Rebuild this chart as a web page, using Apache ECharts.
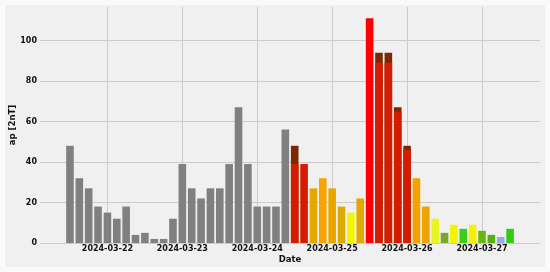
<!DOCTYPE html>
<html>
<head>
<meta charset="utf-8">
<script src="https://cdn.jsdelivr.net/npm/echarts@6/dist/echarts.min.js"></script>
<style>
  html, body { margin: 0; padding: 0; background: #fafafa; }
  #chart { position: absolute; left: 5px; top: 5px; width: 540px; height: 262px; background: #f0f0f0; }
</style>
</head>
<body>
<div id="chart"></div>
<script>
// 3-hourly ap index, bars centred on the start of each interval (UTC)
const times = [
  '2024-03-21 12:00', '2024-03-21 15:00', '2024-03-21 18:00', '2024-03-21 21:00',
  '2024-03-22 00:00', '2024-03-22 03:00', '2024-03-22 06:00', '2024-03-22 09:00',
  '2024-03-22 12:00', '2024-03-22 15:00', '2024-03-22 18:00', '2024-03-22 21:00',
  '2024-03-23 00:00', '2024-03-23 03:00', '2024-03-23 06:00', '2024-03-23 09:00',
  '2024-03-23 12:00', '2024-03-23 15:00', '2024-03-23 18:00', '2024-03-23 21:00',
  '2024-03-24 00:00', '2024-03-24 03:00', '2024-03-24 06:00', '2024-03-24 09:00',
  '2024-03-24 12:00', '2024-03-24 15:00', '2024-03-24 18:00', '2024-03-24 21:00',
  '2024-03-25 00:00', '2024-03-25 03:00', '2024-03-25 06:00', '2024-03-25 09:00',
  '2024-03-25 12:00', '2024-03-25 15:00', '2024-03-25 18:00', '2024-03-25 21:00',
  '2024-03-26 00:00', '2024-03-26 03:00', '2024-03-26 06:00', '2024-03-26 09:00',
  '2024-03-26 12:00', '2024-03-26 15:00', '2024-03-26 18:00', '2024-03-26 21:00',
  '2024-03-27 00:00', '2024-03-27 03:00', '2024-03-27 06:00', '2024-03-27 09:00'
];

const ap = [
  48, 32, 27, 18,
  15, 12, 18, 4, 5, 2, 2, 12,
  39, 27, 22, 27, 27, 39, 67, 39,
  18, 18, 18, 56, 48, 39, 27, 32,
  27, 18, 15, 22, 111, 94, 94, 67,
  48, 32, 18, 12, 5, 9, 7, 9,
  6, 4, 3, 7
];

// value where the dark cap on top of a bar begins (null = no cap)
const capFrom = [
  null, null, null, null,
  null, null, null, null, null, null, null, null,
  null, null, null, null, null, null, null, null,
  null, null, null, null, 39, null, null, null,
  null, null, null, null, null, 89, 89, 65,
  46, null, null, null, null, null, null, null,
  null, null, null, null
];

const G = '#808080';
const R = '#d41c00';
const barColors = [
  G, G, G, G,
  G, G, G, G, G, G, G, G,
  G, G, G, G, G, G, G, G,
  G, G, G, G, R, R, '#e8a600', '#f7a400',
  '#e8a600', '#dcaa00', '#f5f500', '#e2aa00', '#ff0000', R, R, R,
  R, '#f5a200', '#eba400', '#eaf520', '#78a82a', '#f0f500', '#3ccc1a', '#f8f000',
  '#66b810', '#55b010', '#99aaee', '#33cc11'
];
const capColor = '#7d2800';

const yTicks = [0, 20, 40, 60, 80, 100];

const toMs = s => Date.parse(s.replace(' ', 'T') + ':00Z');
const DAY = 86400000;

const font = { fontFamily: 'DejaVu Sans', fontWeight: 'bold', fontSize: 8, color: '#111' };

let myChart = echarts.init(document.getElementById('chart'));

let option = {
  useUTC: true,
  animation: false,
  backgroundColor: '#f0f0f0',
  grid: { left: 35, right: 5, top: 2, bottom: 24, outerBoundsMode: 'none' },
  xAxis: {
    type: 'time',
    min: toMs('2024-03-21 03:37'),
    max: toMs('2024-03-27 17:22'),
    minInterval: DAY,
    maxInterval: DAY,
    name: 'Date',
    nameLocation: 'middle',
    nameGap: 12,
    nameMoveOverlap: false,
    nameTextStyle: Object.assign({}, font, { fontSize: 8.5, verticalAlign: 'top' }),
    axisLine: { show: false },
    axisTick: { show: false },
    axisLabel: Object.assign({}, font, {
      margin: 2,
      showMinLabel: false,
      showMaxLabel: false,
      formatter: v => (v % DAY === 0 ? new Date(v).toISOString().slice(0, 10) : '')
    }),
    splitLine: { show: true, showMinLine: false, showMaxLine: false, lineStyle: { color: '#cbcbcb', width: 1 } }
  },
  yAxis: {
    type: 'value',
    min: 0,
    max: 116.55,
    interval: 20,
    name: 'ap [2nT]',
    nameLocation: 'middle',
    nameGap: 23,
    nameMoveOverlap: false,
    nameTextStyle: Object.assign({}, font, { fontSize: 8.5 }),
    axisLine: { show: false },
    axisTick: { show: false },
    axisLabel: Object.assign({}, font, {
      margin: 3,
      formatter: v => (yTicks.includes(v) ? String(v) : '')
    }),
    splitLine: { show: true, showMaxLine: false, lineStyle: { color: '#cbcbcb', width: 1 } }
  },
  series: [
    {
      name: 'ap',
      type: 'bar',
      barWidth: 7.6,
      barGap: '-100%',
      data: times.map((t, i) => ({
        value: [toMs(t), ap[i]],
        itemStyle: { color: capFrom[i] != null ? capColor : barColors[i] }
      }))
    },
    {
      name: 'body',
      type: 'bar',
      barWidth: 7.6,
      barGap: '-100%',
      data: times.map((t, i) => ({
        value: [toMs(t), capFrom[i] != null ? capFrom[i] : 0],
        itemStyle: { color: barColors[i] }
      }))
    }
  ]
};

myChart.setOption(option);
</script>
</body>
</html>
